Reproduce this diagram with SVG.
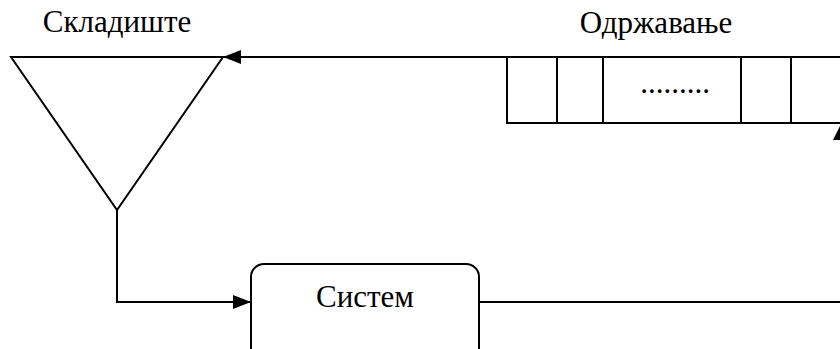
<svg xmlns="http://www.w3.org/2000/svg" width="840" height="349" viewBox="0 0 840 349">
<style>
.s{fill:none;stroke:#000;stroke-width:2}
.t{font-family:"Liberation Serif","Times New Roman",serif;font-size:31px;fill:#000;text-anchor:middle}
</style>
<defs>
<marker id="ah" markerWidth="18" markerHeight="14" refX="17" refY="7" orient="auto" markerUnits="userSpaceOnUse">
<path d="M0,0 L18,7 L0,14 Z" fill="#000"/>
</marker>
</defs>
<rect width="840" height="349" fill="#fff"/>
<g id="skladiste">
<polygon class="s" points="11,57 223,57 117,210"/>
<text class="t" x="117" y="32">Складиште</text>
</g>
<g id="odrzavanje">
<path class="s" d="M507,57 V123 H840 M557,57 V123 M603,57 V123 M741,57 V123 M791,57 V123"/>
<text class="t" x="656" y="33">Одржавање</text>
<text class="t" x="675" y="93">.........</text>
</g>
<g id="sistem">
<rect class="s" x="251" y="264" width="228" height="110" rx="13"/>
<text class="t" x="365" y="307">Систем</text>
</g>
<g id="connectors">
<path class="s" d="M840,57 H224" marker-end="url(#ah)"/>
<path class="s" d="M117,210 V302 H250" marker-end="url(#ah)"/>
<path class="s" d="M479,302 H840"/>
<polygon points="842,122 833,140 851,140" fill="#000"/>
</g>
</svg>
